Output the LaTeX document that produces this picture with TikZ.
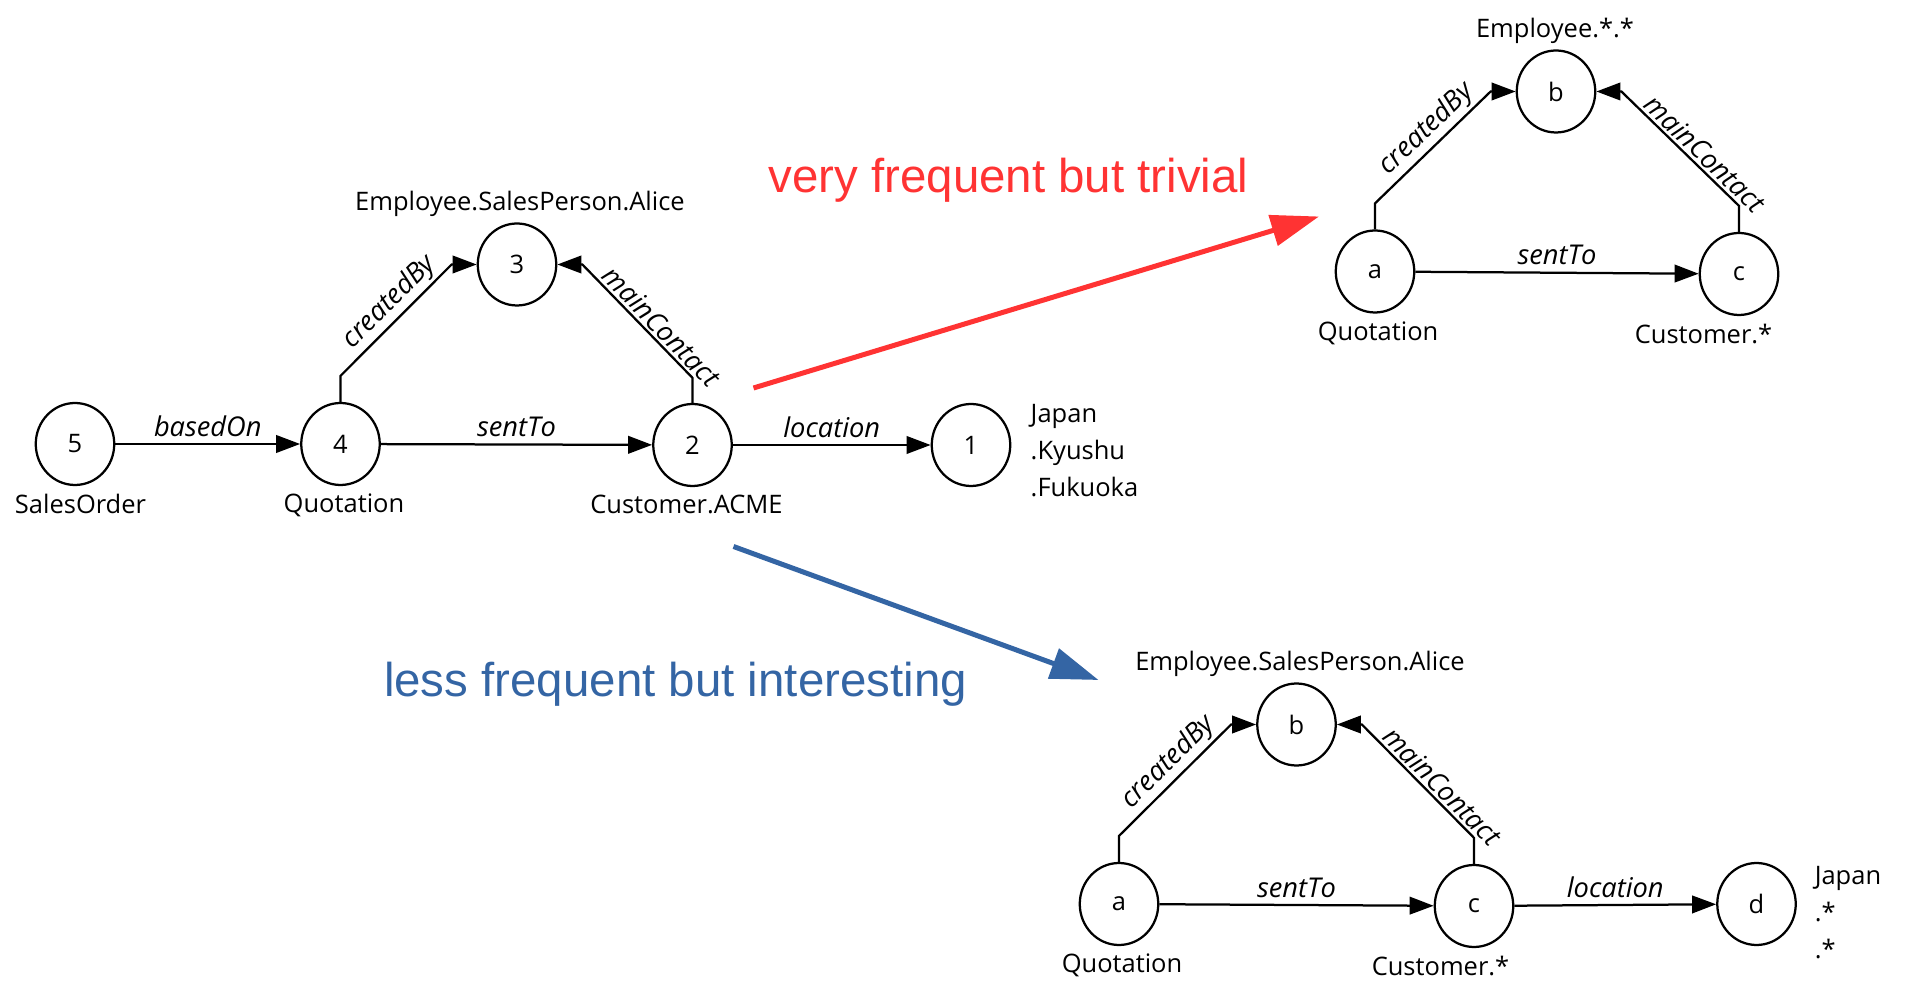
\documentclass[tikz,border=0pt]{standalone}
\usepackage{fontspec}
\setmainfont{Open Sans}
\newfontfamily\notefont{Liberation Sans}
\usetikzlibrary{arrows.meta,positioning,shapes.geometric}
\definecolor{notered}{RGB}{255,51,51}
\definecolor{noteblue}{RGB}{52,101,164}
\newcommand{\graphsize}{\fontsize{14.5}{20.9}\selectfont}
\tikzset{
    vertex/.style = {draw, ellipse, line width = 0.045cm, minimum width = 1.57cm, minimum height = 1.64cm, inner sep = 0pt},
    tag/.style = {inner sep = 0pt},
    edge/.style = {line width = 0.045cm, -{Triangle[length = 0.48cm, width = 0.35cm]}},
    rel/.style = {font = \fontsize{15.5}{20}\selectfont\itshape, inner sep = 0.05cm},
    hint/.style = {line width = 0.1cm, -{Triangle[length = 0.96cm, width = 0.62cm]}},
    note/.style = {anchor = base, inner sep = 0pt, font = \notefont\fontsize{27}{32}\selectfont}
}
\begin{document}
\begin{tikzpicture}[font = \graphsize]
    \useasboundingbox (0,0) rectangle (38.14,19.86);
    \node[vertex] (n5) at (1.50,10.98) {5};
    \node[vertex] (n4) at (6.81,10.98) {4};
    \node[vertex] (n3) at (10.34,14.57) {3};
    \node[vertex] (n2) at (13.85,10.96) {2};
    \node[vertex] (n1) at (19.42,10.96) {1};
    \node[tag, below = 0.15cm of n5, xshift = 0.11cm] (t5) {SalesOrder};
    \node[tag, below = 0.15cm of n4, xshift = 0.07cm] (t4) {Quotation};
    \node[tag, above = 0.1cm of n3, xshift = 0.06cm] (t3) {Employee.SalesPerson.Alice};
    \node[tag, below = 0.15cm of n2, xshift = -0.12cm] (t2) {Customer.ACME};
    \node[tag, align = left, right = 0.38cm of n1, yshift = -0.11cm] (t1) {Japan\\.Kyushu\\.Fukuoka};
    \draw[edge] (n5) -- node[rel, above = 0.08cm] (r54) {basedOn} (n4);
    \draw[edge] (n4) -- node[rel, above = 0.08cm] (r42) {sentTo} (n2);
    \draw[edge] (n2) -- node[rel, above = 0.08cm] (r21) {location} (n1);
    \draw[edge] (n4.north) -- ++(0,0.52) -- node[rel, sloped, above, pos = 0.55] (r43) {createdBy} ([xshift = -0.5cm]n3.west) -- (n3.west);
    \draw[edge] (n2.north) -- ++(0,0.5) -- node[rel, sloped, above, pos = 0.37] (r23) {mainContact} ([xshift = 0.5cm]n3.east) -- (n3.east);

    \node[vertex] (a2) at (27.50,14.43) {a};
    \node[vertex] (b2) at (31.12,18.03) {b};
    \node[vertex] (c2) at (34.78,14.38) {c};
    \node[tag, below = 0.15cm of a2, xshift = 0.06cm] (ta2) {Quotation};
    \node[tag, above = 0.1cm of b2, xshift = -0.02cm] (tb2) {Employee.*.*};
    \node[tag, below = 0.15cm of c2, xshift = -0.71cm] (tc2) {Customer.*};
    \draw[edge] (a2) -- node[rel, above = 0.08cm] (rac2) {sentTo} (c2);
    \draw[edge] (a2.north) -- ++(0,0.52) -- node[rel, sloped, above, pos = 0.55] (rab2) {createdBy} ([xshift = -0.5cm]b2.west) -- (b2.west);
    \draw[edge] (c2.north) -- ++(0,0.52) -- node[rel, sloped, above, pos = 0.37] (rcb2) {mainContact} ([xshift = 0.5cm]b2.east) -- (b2.east);

    \node[vertex] (a3) at (22.38,1.78) {a};
    \node[vertex] (b3) at (25.93,5.37) {b};
    \node[vertex] (c3) at (29.48,1.74) {c};
    \node[vertex] (d3) at (35.13,1.78) {d};
    \node[tag, below = 0.15cm of a3, xshift = 0.06cm] (ta3) {Quotation};
    \node[tag, above = 0.1cm of b3, xshift = 0.07cm] (tb3) {Employee.SalesPerson.Alice};
    \node[tag, below = 0.15cm of c3, xshift = -0.67cm] (tc3) {Customer.*};
    \node[tag, align = left, right = 0.35cm of d3, yshift = -0.17cm] (td3) {Japan\\.*\\.*};
    \draw[edge] (a3) -- node[rel, above = 0.08cm] (rac3) {sentTo} (c3);
    \draw[edge] (c3) -- node[rel, above = 0.08cm] (rcd3) {location} (d3);
    \draw[edge] (a3.north) -- ++(0,0.52) -- node[rel, sloped, above, pos = 0.55] (rab3) {createdBy} ([xshift = -0.5cm]b3.west) -- (b3.west);
    \draw[edge] (c3.north) -- ++(0,0.52) -- node[rel, sloped, above, pos = 0.37] (rcb3) {mainContact} ([xshift = 0.5cm]b3.east) -- (b3.east);

    \coordinate (red0) at (15.07,12.10);
    \coordinate (red1) at (26.38,15.53);
    \coordinate (blue0) at (14.67,8.93);
    \coordinate (blue1) at (21.97,6.26);
    \draw[hint, notered] (red0) -- (red1);
    \draw[hint, noteblue] (blue0) -- (blue1);
    \node[note, notered] (trivial) at (20.17,16.01) {very frequent but trivial};
    \node[note, noteblue] (interesting) at (13.51,5.92) {less frequent but interesting};
\end{tikzpicture}
\end{document}
